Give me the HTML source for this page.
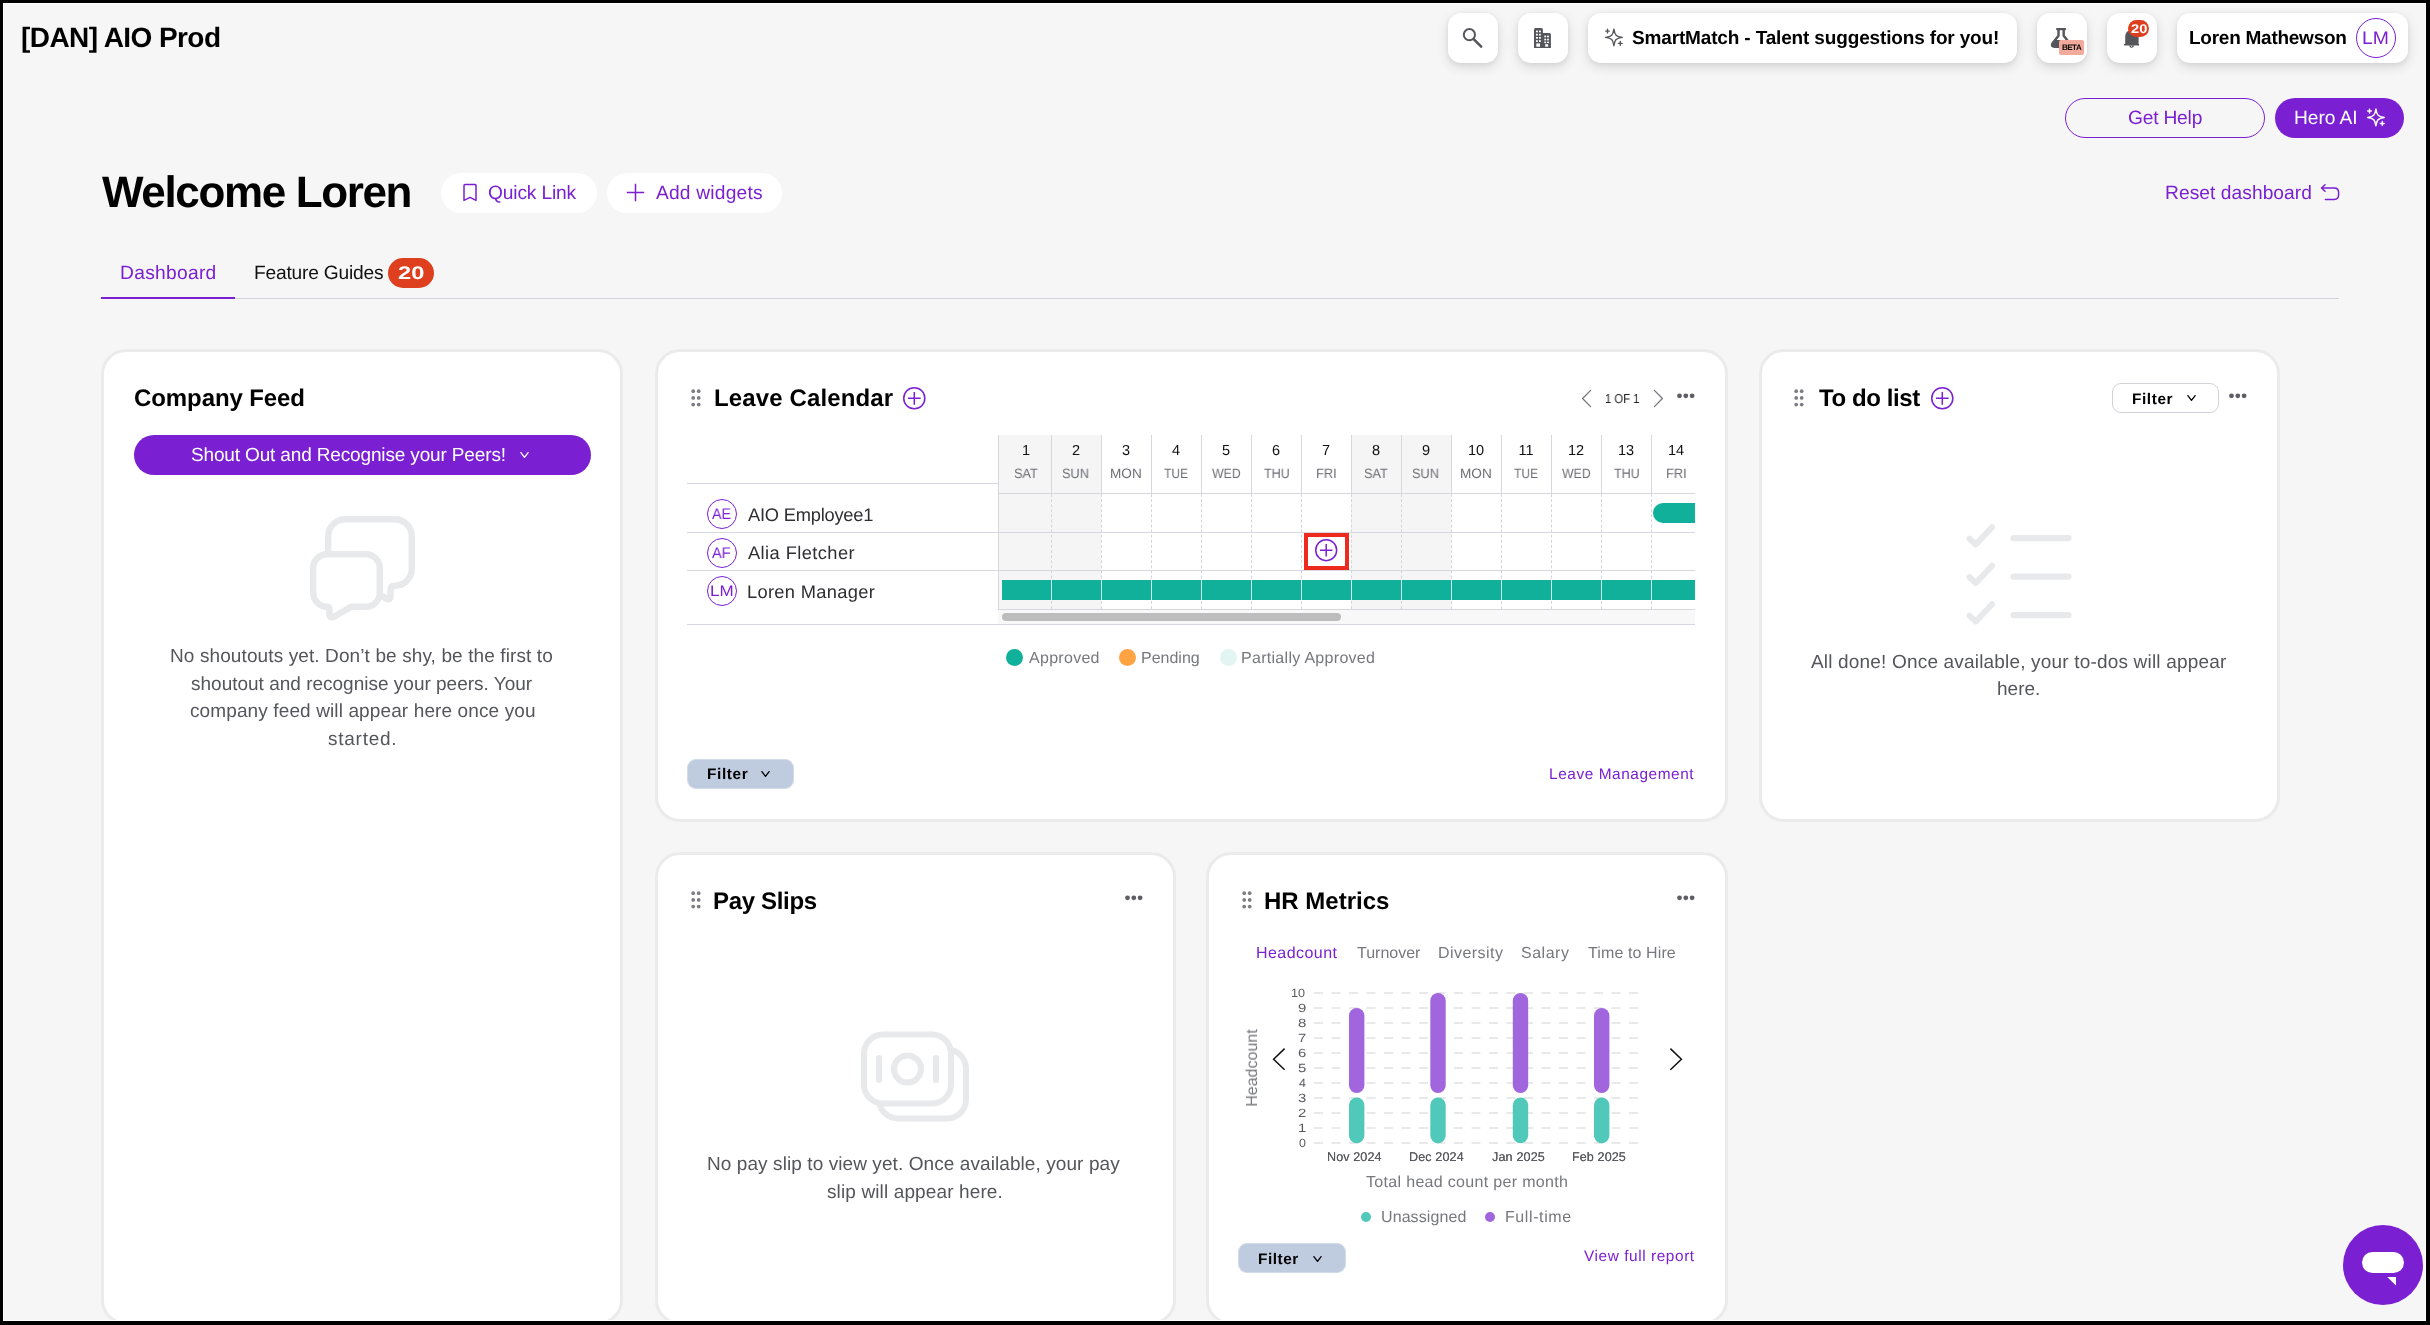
<!DOCTYPE html><html lang="en"><head><meta charset="utf-8"><title>Dashboard</title><style>

*{margin:0;padding:0;box-sizing:border-box}
html,body{width:2430px;height:1325px;overflow:hidden;background:#f6f6f6}
body{position:relative;font-family:"Liberation Sans",sans-serif;color:#000;text-rendering:geometricPrecision}
body>div,body>span,body>svg{position:absolute}
.t{white-space:pre;line-height:1;display:block;will-change:transform}
.card{background:#fff;border:3px solid #ebebeb;border-radius:25px}
.hb{background:#fff;border-radius:13px;box-shadow:0 4px 12px rgba(0,0,0,.13),0 1px 4px rgba(0,0,0,.06)}

</style></head><body>
<div class="hb" style="left:1448px;top:13px;width:50px;height:50px"></div>
<svg style="left:1458px;top:23px" width="30" height="30" viewBox="0 0 30 30" fill="none" stroke="#55565b"><circle cx="11.4" cy="11.7" r="5.6" stroke-width="2"/><path d="M15.7 16.2 L23.2 23.7" stroke-width="2.6" stroke-linecap="round"/></svg>
<div class="hb" style="left:1518px;top:13px;width:50px;height:50px"></div>
<svg style="left:1533px;top:27px" width="19" height="22" viewBox="0 0 19 22"><path fill="#55565b" d="M1 2.6 Q1 1 2.6 1 H8.3 Q9.9 1 9.9 2.6 V6 H16.3 Q17.9 6 17.9 7.6 V20.9 H1 Z"/><g fill="#fff"><rect x="3" y="3.6" width="1.9" height="1.7"/><rect x="6" y="3.6" width="1.9" height="1.7"/><rect x="3" y="6.8" width="1.9" height="1.7"/><rect x="6" y="6.8" width="1.9" height="1.7"/><rect x="3" y="10" width="1.9" height="1.7"/><rect x="6" y="10" width="1.9" height="1.7"/><rect x="3" y="13.2" width="1.9" height="1.7"/><rect x="6" y="13.2" width="1.9" height="1.7"/><rect x="3.3" y="16.4" width="3.7" height="3.3"/><rect x="11.3" y="8.6" width="1.8" height="1.7"/><rect x="14.1" y="8.6" width="1.8" height="1.7"/><rect x="11.3" y="11.7" width="1.8" height="1.7"/><rect x="14.1" y="11.7" width="1.8" height="1.7"/><rect x="11.3" y="14.6" width="1.8" height="1.5"/><rect x="14.1" y="14.6" width="1.8" height="1.5"/><rect x="12.2" y="17.2" width="2.9" height="2.5"/></g></svg>
<div class="hb" style="left:1588px;top:13px;width:429px;height:50px"></div>
<svg style="left:1604px;top:28px" width="20.0" height="19.0" viewBox="0 0 20 19" fill="none" stroke="#55565b" stroke-width="1.4" stroke-linejoin="round" stroke-linecap="round"><path d="M9.9 1.1 C10.8 7.2 12.1 8.5 18.3 9.4 C12.1 10.3 10.8 11.6 9.9 17.7 C9 11.6 7.7 10.3 1.5 9.4 C7.7 8.5 9 7.2 9.9 1.1 Z"/><path d="M3.5 1.3 V4.9 M1.7 3.1 H5.3"/><path d="M16.3 13.5 V17.3 M14.4 15.4 H18.2"/></svg>
<div class="hb" style="left:2037px;top:13px;width:50px;height:50px"></div>
<svg style="left:2050px;top:27px" width="23" height="22" viewBox="0 0 23 22"><rect x="6.2" y="1" width="9.8" height="2.2" rx="0.6" fill="#55565b"/><path d="M8.5 2.5 V8.8 L2.5 16.2 Q0.9 19.8 4.6 19.8 H17.6 Q21.3 19.8 19.7 16.2 L13.7 8.8 V2.5" fill="none" stroke="#55565b" stroke-width="2.4" stroke-linejoin="round"/><path d="M5.2 13 H17 L19.8 16.6 Q20.6 19.6 17.6 19.6 H4.6 Q1.6 19.6 2.4 16.6 Z" fill="#55565b"/></svg>
<div style="left:2059px;top:40px;width:25px;height:15px;background:#f1aa9b;border-radius:2px"></div>
<div class="hb" style="left:2107px;top:13px;width:50px;height:50px"></div>
<svg style="left:2123px;top:29px" width="18" height="20" viewBox="0 0 18 20"><path fill="#55565b" d="M2.2 14.9 V8 C2.2 3.6 5 1 8.9 1 C12.8 1 15.6 3.6 15.6 8 V14.9 H16.1 V16.5 H1.1 V14.9 Z"/><path fill="#55565b" d="M6.2 16.4 A2.4 2.4 0 0 0 11 16.4 Z"/><circle cx="8.6" cy="17.3" r="0.55" fill="#fff"/></svg>
<div style="left:2128px;top:20px;width:21px;height:17px;border-radius:8.5px;background:#de3f1f"></div>
<div class="hb" style="left:2177px;top:13px;width:231px;height:50px"></div>
<div style="left:2356px;top:18px;width:40px;height:40px;border-radius:50%;border:1.5px solid #7a1fd2"></div>
<div style="left:2065px;top:98px;width:200px;height:40px;border-radius:20px;border:1.5px solid #7a1fd2"></div>
<div style="left:2275px;top:98px;width:129px;height:40px;border-radius:20px;background:#7a1fd2"></div>
<svg style="left:2366px;top:107.5px" width="20.0" height="19.0" viewBox="0 0 20 19" fill="none" stroke="#fff" stroke-width="1.5" stroke-linejoin="round" stroke-linecap="round"><path d="M9.9 1.1 C10.8 7.2 12.1 8.5 18.3 9.4 C12.1 10.3 10.8 11.6 9.9 17.7 C9 11.6 7.7 10.3 1.5 9.4 C7.7 8.5 9 7.2 9.9 1.1 Z"/><path d="M3.5 1.3 V4.9 M1.7 3.1 H5.3"/><path d="M16.3 13.5 V17.3 M14.4 15.4 H18.2"/></svg>
<div style="left:441px;top:173px;width:156px;height:40px;border-radius:20px;background:#fff"></div>
<svg style="left:462px;top:183px" width="16" height="19" viewBox="0 0 16 19" fill="none" stroke="#7a1fd2" stroke-width="1.5" stroke-linejoin="round"><path d="M2 2.6 Q2 1.6 3 1.6 H13 Q14 1.6 14 2.6 V17.4 L8 14.4 L2 17.4 Z"/></svg>
<div style="left:607px;top:173px;width:175px;height:40px;border-radius:20px;background:#fff"></div>
<svg style="left:626px;top:183px" width="19" height="19" viewBox="0 0 19 19" fill="none" stroke="#7a1fd2" stroke-width="1.5"><path d="M9.5 0.8 V18.2 M0.8 9.5 H18.2"/></svg>
<svg style="left:2320px;top:183px" width="21" height="19" viewBox="0 0 21 19" fill="none" stroke="#7a1fd2" stroke-width="1.5" stroke-linejoin="round" stroke-linecap="round"><path d="M5 1.8 L1.6 5 L5 8.2"/><path d="M1.8 5 H14.2 Q18.6 5 18.6 9.4 V12 Q18.6 16.4 14.2 16.4 H5.4"/></svg>
<div style="left:101px;top:298px;width:2238px;height:1px;background:#d3d3dc"></div>
<div style="left:101px;top:296.5px;width:134px;height:2.5px;background:#7a1fd2"></div>
<div style="left:388px;top:258px;width:46px;height:30px;border-radius:15px;background:#de3f1f"></div>
<div class="card" style="left:101px;top:349px;width:522px;height:976px"></div>
<div style="left:134px;top:435px;width:457px;height:40px;border-radius:20px;background:#7a1fd2"></div>
<svg style="left:518.5px;top:450.5px" width="11" height="8" viewBox="0 0 11 8" fill="none" stroke="#fff" stroke-width="1.3" stroke-linecap="round" stroke-linejoin="round"><path d="M1.9 1.6 L5.5 6.3 L9.1 1.6"/></svg>
<svg style="left:305px;top:511px" width="115" height="115" viewBox="0 0 115 115" fill="none" stroke="#e8e9eb" stroke-width="6.4" stroke-linecap="round" stroke-linejoin="round"><path d="M23.2 45 V25.2 A17 17 0 0 1 40.2 8.2 H89.8 A17 17 0 0 1 106.8 25.2 V57.8 A17 17 0 0 1 89.8 74.8 Q85.6 74.8 85.6 79 V85.5 Q85.6 88.8 82.4 88.2 L78 85.6"/><path fill="#fff" d="M22.2 43.2 H60.8 A14 14 0 0 1 74.8 57.2 V81.8 A14 14 0 0 1 60.8 95.8 H46 L29.6 105.6 Q24.4 108 24.4 103 V98 Q24.4 95.8 22.2 95.8 A14 14 0 0 1 8.2 81.8 V57.2 A14 14 0 0 1 22.2 43.2 Z"/></svg>
<div class="card" style="left:655px;top:349px;width:1073px;height:473px"></div>
<svg style="left:690.5px;top:389.3px" width="10" height="18" viewBox="0 0 10 18" fill="#7c7d82"><circle cx="2.2" cy="2.2" r="1.85"/><circle cx="2.2" cy="8.9" r="1.85"/><circle cx="2.2" cy="15.6" r="1.85"/><circle cx="7.7" cy="2.2" r="1.85"/><circle cx="7.7" cy="8.9" r="1.85"/><circle cx="7.7" cy="15.6" r="1.85"/></svg>
<svg style="left:902.2px;top:385.9px" width="24.6" height="24.6" fill="none" stroke="#7a1fd2" stroke-width="1.5"><circle cx="12.3" cy="12.3" r="10.55"/><path d="M12.3 5.97 V18.63 M5.97 12.3 H18.63"/></svg>
<svg style="left:1580px;top:388px" width="14" height="21" viewBox="0 0 14 21" fill="none" stroke="#77787d" stroke-width="1.3" stroke-linecap="round" stroke-linejoin="round"><path d="M10.6 2.4 L2.6 10.5 L10.6 18.6"/></svg>
<svg style="left:1651px;top:388px" width="14" height="21" viewBox="0 0 14 21" fill="none" stroke="#77787d" stroke-width="1.3" stroke-linecap="round" stroke-linejoin="round"><path d="M3.4 2.4 L11.4 10.5 L3.4 18.6"/></svg>
<svg style="left:1676.6px;top:393.4px" width="18" height="6" viewBox="0 0 18 6" fill="#5d5e63"><circle cx="2.5" cy="2.8" r="2.4"/><circle cx="8.8" cy="2.8" r="2.4"/><circle cx="15.1" cy="2.8" r="2.4"/></svg>
<div style="left:998px;top:435px;width:697px;height:190px;overflow:hidden"><div style="position:absolute;left:0.0px;top:0;width:103.4px;height:174px;background:#f5f5f6"></div><div style="position:absolute;left:353.4px;top:0;width:100.0px;height:174px;background:#f5f5f6"></div><div style="position:absolute;left:0;top:175px;width:697px;height:14px;background:#f8f8f8"></div><div style="position:absolute;left:4px;top:178px;width:339px;height:8px;border-radius:4px;background:#bdbdbd"></div><div style="position:absolute;left:0;top:0;width:1px;height:174px;background:#d7d7de"></div><div style="position:absolute;left:53px;top:0;width:1px;height:58px;background:#d7d7de"></div><div style="position:absolute;left:53px;top:59px;width:0;height:115px;border-left:1px dashed #d4d4db"></div><div style="position:absolute;left:103px;top:0;width:1px;height:58px;background:#d7d7de"></div><div style="position:absolute;left:103px;top:59px;width:0;height:115px;border-left:1px dashed #d4d4db"></div><div style="position:absolute;left:153px;top:0;width:1px;height:58px;background:#d7d7de"></div><div style="position:absolute;left:153px;top:59px;width:0;height:115px;border-left:1px dashed #d4d4db"></div><div style="position:absolute;left:203px;top:0;width:1px;height:58px;background:#d7d7de"></div><div style="position:absolute;left:203px;top:59px;width:0;height:115px;border-left:1px dashed #d4d4db"></div><div style="position:absolute;left:253px;top:0;width:1px;height:58px;background:#d7d7de"></div><div style="position:absolute;left:253px;top:59px;width:0;height:115px;border-left:1px dashed #d4d4db"></div><div style="position:absolute;left:303px;top:0;width:1px;height:58px;background:#d7d7de"></div><div style="position:absolute;left:303px;top:59px;width:0;height:115px;border-left:1px dashed #d4d4db"></div><div style="position:absolute;left:353px;top:0;width:1px;height:58px;background:#d7d7de"></div><div style="position:absolute;left:353px;top:59px;width:0;height:115px;border-left:1px dashed #d4d4db"></div><div style="position:absolute;left:403px;top:0;width:1px;height:58px;background:#d7d7de"></div><div style="position:absolute;left:403px;top:59px;width:0;height:115px;border-left:1px dashed #d4d4db"></div><div style="position:absolute;left:453px;top:0;width:1px;height:58px;background:#d7d7de"></div><div style="position:absolute;left:453px;top:59px;width:0;height:115px;border-left:1px dashed #d4d4db"></div><div style="position:absolute;left:503px;top:0;width:1px;height:58px;background:#d7d7de"></div><div style="position:absolute;left:503px;top:59px;width:0;height:115px;border-left:1px dashed #d4d4db"></div><div style="position:absolute;left:553px;top:0;width:1px;height:58px;background:#d7d7de"></div><div style="position:absolute;left:553px;top:59px;width:0;height:115px;border-left:1px dashed #d4d4db"></div><div style="position:absolute;left:603px;top:0;width:1px;height:58px;background:#d7d7de"></div><div style="position:absolute;left:603px;top:59px;width:0;height:115px;border-left:1px dashed #d4d4db"></div><div style="position:absolute;left:653px;top:0;width:1px;height:58px;background:#d7d7de"></div><div style="position:absolute;left:653px;top:59px;width:0;height:115px;border-left:1px dashed #d4d4db"></div><div style="position:absolute;left:0;top:58px;width:697px;height:1px;background:#d7d7de"></div><div style="position:absolute;left:0;top:97px;width:697px;height:1px;background:#d7d7de"></div><div style="position:absolute;left:0;top:135px;width:697px;height:1px;background:#d7d7de"></div><div style="position:absolute;left:0;top:174px;width:697px;height:1px;background:#d7d7de"></div><div style="position:absolute;left:4px;top:145px;width:700px;height:20px;background:#10b09b"></div><div style="position:absolute;left:53px;top:145px;width:0;height:20px;border-left:1px solid rgba(255,255,255,.8)"></div><div style="position:absolute;left:103px;top:145px;width:0;height:20px;border-left:1px solid rgba(255,255,255,.8)"></div><div style="position:absolute;left:153px;top:145px;width:0;height:20px;border-left:1px solid rgba(255,255,255,.8)"></div><div style="position:absolute;left:203px;top:145px;width:0;height:20px;border-left:1px solid rgba(255,255,255,.8)"></div><div style="position:absolute;left:253px;top:145px;width:0;height:20px;border-left:1px solid rgba(255,255,255,.8)"></div><div style="position:absolute;left:303px;top:145px;width:0;height:20px;border-left:1px solid rgba(255,255,255,.8)"></div><div style="position:absolute;left:353px;top:145px;width:0;height:20px;border-left:1px solid rgba(255,255,255,.8)"></div><div style="position:absolute;left:403px;top:145px;width:0;height:20px;border-left:1px solid rgba(255,255,255,.8)"></div><div style="position:absolute;left:453px;top:145px;width:0;height:20px;border-left:1px solid rgba(255,255,255,.8)"></div><div style="position:absolute;left:503px;top:145px;width:0;height:20px;border-left:1px solid rgba(255,255,255,.8)"></div><div style="position:absolute;left:553px;top:145px;width:0;height:20px;border-left:1px solid rgba(255,255,255,.8)"></div><div style="position:absolute;left:603px;top:145px;width:0;height:20px;border-left:1px solid rgba(255,255,255,.8)"></div><div style="position:absolute;left:653px;top:145px;width:0;height:20px;border-left:1px solid rgba(255,255,255,.8)"></div><div style="position:absolute;left:655px;top:68px;width:80px;height:20px;border-radius:10px;background:#10b09b"></div></div>
<div style="left:687px;top:483px;width:311px;height:1px;background:#d7d7de"></div>
<div style="left:687px;top:532px;width:311px;height:1px;background:#d7d7de"></div>
<div style="left:687px;top:570px;width:311px;height:1px;background:#d7d7de"></div>
<div style="left:687px;top:624px;width:1008px;height:1px;background:#d7d7de"></div>
<div style="left:707px;top:499px;width:30px;height:30px;border-radius:50%;border:1.4px solid #7a1fd2"></div>
<div style="left:707px;top:538px;width:30px;height:30px;border-radius:50%;border:1.4px solid #7a1fd2"></div>
<div style="left:707px;top:576px;width:30px;height:30px;border-radius:50%;border:1.4px solid #7a1fd2"></div>
<div style="left:1304px;top:533px;width:45px;height:37px;border:4px solid #ee2a1f;background:#fff"></div>
<svg style="left:1313.8px;top:538.3px" width="24.4" height="24.4" fill="none" stroke="#7a1fd2" stroke-width="1.5"><circle cx="12.2" cy="12.2" r="10.45"/><path d="M12.2 5.93 V18.47 M5.93 12.2 H18.47"/></svg>
<div style="left:1006px;top:648.5px;width:17px;height:17px;border-radius:50%;background:#10b09b"></div>
<div style="left:1119px;top:648.5px;width:17px;height:17px;border-radius:50%;background:#ffa343"></div>
<div style="left:1220px;top:648.5px;width:17px;height:17px;border-radius:50%;background:#e3f5f3"></div>
<div style="left:687px;top:759px;width:107px;height:30px;border-radius:9px;background:#bfcbdf;border:1px solid #d3dbe9"></div>
<svg style="left:760.3px;top:769.8px" width="11" height="8" viewBox="0 0 11 8" fill="none" stroke="#000" stroke-width="1.3" stroke-linecap="round" stroke-linejoin="round"><path d="M1.9 1.6 L5.5 6.3 L9.1 1.6"/></svg>
<div class="card" style="left:1759px;top:349px;width:521px;height:473px"></div>
<svg style="left:1794px;top:389.3px" width="10" height="18" viewBox="0 0 10 18" fill="#7c7d82"><circle cx="2.2" cy="2.2" r="1.85"/><circle cx="2.2" cy="8.9" r="1.85"/><circle cx="2.2" cy="15.6" r="1.85"/><circle cx="7.7" cy="2.2" r="1.85"/><circle cx="7.7" cy="8.9" r="1.85"/><circle cx="7.7" cy="15.6" r="1.85"/></svg>
<svg style="left:1929.7px;top:385.9px" width="24.6" height="24.6" fill="none" stroke="#7a1fd2" stroke-width="1.5"><circle cx="12.3" cy="12.3" r="10.55"/><path d="M12.3 5.97 V18.63 M5.97 12.3 H18.63"/></svg>
<div style="left:2112px;top:383px;width:106.5px;height:30px;border-radius:9px;background:#fff;border:1px solid #d2d2d8"></div>
<svg style="left:2185.6px;top:394.4px" width="11" height="8" viewBox="0 0 11 8" fill="none" stroke="#000" stroke-width="1.3" stroke-linecap="round" stroke-linejoin="round"><path d="M1.9 1.6 L5.5 6.3 L9.1 1.6"/></svg>
<svg style="left:2229.3px;top:393.2px" width="18" height="6" viewBox="0 0 18 6" fill="#5d5e63"><circle cx="2.5" cy="2.8" r="2.4"/><circle cx="8.8" cy="2.8" r="2.4"/><circle cx="15.1" cy="2.8" r="2.4"/></svg>
<svg style="left:1960px;top:515px" width="120" height="115" viewBox="0 0 120 115" fill="none" stroke="#e8e9eb" stroke-linecap="round" stroke-linejoin="round"><path stroke-width="6" d="M9.5 23.6 L15.8 29.5 L32 12.3"/><path stroke-width="6.4" d="M53.6 23.1 H108.4"/><path stroke-width="6" d="M9.5 62.1 L15.8 68.0 L32 50.8"/><path stroke-width="6.4" d="M53.6 61.6 H108.4"/><path stroke-width="6" d="M9.5 100.6 L15.8 106.5 L32 89.3"/><path stroke-width="6.4" d="M53.6 100.1 H108.4"/></svg>
<div class="card" style="left:655px;top:852px;width:521px;height:473px"></div>
<svg style="left:690.6px;top:891.4px" width="10" height="18" viewBox="0 0 10 18" fill="#7c7d82"><circle cx="2.2" cy="2.2" r="1.85"/><circle cx="2.2" cy="8.9" r="1.85"/><circle cx="2.2" cy="15.6" r="1.85"/><circle cx="7.7" cy="2.2" r="1.85"/><circle cx="7.7" cy="8.9" r="1.85"/><circle cx="7.7" cy="15.6" r="1.85"/></svg>
<svg style="left:1125.3px;top:895.4px" width="18" height="6" viewBox="0 0 18 6" fill="#5d5e63"><circle cx="2.5" cy="2.8" r="2.4"/><circle cx="8.8" cy="2.8" r="2.4"/><circle cx="15.1" cy="2.8" r="2.4"/></svg>
<svg style="left:856px;top:1026px" width="120" height="100" viewBox="0 0 120 100" fill="none" stroke="#e8e9eb" stroke-width="6" stroke-linecap="round"><rect x="23" y="23.6" width="87" height="68.8" rx="19" ry="19"/><rect x="8" y="8.6" width="87" height="68.8" rx="19" ry="19" fill="#fff"/><path d="M23 32 V54 M80 32 V54"/><circle cx="51.5" cy="43" r="13.5"/></svg>
<div class="card" style="left:1206px;top:852px;width:522px;height:473px"></div>
<svg style="left:1241.6px;top:891.4px" width="10" height="18" viewBox="0 0 10 18" fill="#7c7d82"><circle cx="2.2" cy="2.2" r="1.85"/><circle cx="2.2" cy="8.9" r="1.85"/><circle cx="2.2" cy="15.6" r="1.85"/><circle cx="7.7" cy="2.2" r="1.85"/><circle cx="7.7" cy="8.9" r="1.85"/><circle cx="7.7" cy="15.6" r="1.85"/></svg>
<svg style="left:1676.8px;top:895.4px" width="18" height="6" viewBox="0 0 18 6" fill="#5d5e63"><circle cx="2.5" cy="2.8" r="2.4"/><circle cx="8.8" cy="2.8" r="2.4"/><circle cx="15.1" cy="2.8" r="2.4"/></svg>
<svg style="left:1236px;top:980px" width="470" height="200" viewBox="1236 980 470 200"><path d="M1314 1143 H1638" stroke="#e9e9ea" stroke-width="1.8" stroke-dasharray="9 8.5" fill="none"/><path d="M1314 1128 H1638" stroke="#e9e9ea" stroke-width="1.8" stroke-dasharray="9 8.5" fill="none"/><path d="M1314 1113 H1638" stroke="#e9e9ea" stroke-width="1.8" stroke-dasharray="9 8.5" fill="none"/><path d="M1314 1098 H1638" stroke="#e9e9ea" stroke-width="1.8" stroke-dasharray="9 8.5" fill="none"/><path d="M1314 1083 H1638" stroke="#e9e9ea" stroke-width="1.8" stroke-dasharray="9 8.5" fill="none"/><path d="M1314 1068 H1638" stroke="#e9e9ea" stroke-width="1.8" stroke-dasharray="9 8.5" fill="none"/><path d="M1314 1053 H1638" stroke="#e9e9ea" stroke-width="1.8" stroke-dasharray="9 8.5" fill="none"/><path d="M1314 1038 H1638" stroke="#e9e9ea" stroke-width="1.8" stroke-dasharray="9 8.5" fill="none"/><path d="M1314 1023 H1638" stroke="#e9e9ea" stroke-width="1.8" stroke-dasharray="9 8.5" fill="none"/><path d="M1314 1008 H1638" stroke="#e9e9ea" stroke-width="1.8" stroke-dasharray="9 8.5" fill="none"/><path d="M1314 993 H1638" stroke="#e9e9ea" stroke-width="1.8" stroke-dasharray="9 8.5" fill="none"/><rect x="1349.0" y="1008" width="15.4" height="85" rx="7.7" fill="#a165de"/><rect x="1349.0" y="1097.6" width="15.4" height="45.6" rx="7.7" fill="#50c8ba"/><rect x="1430.3" y="993" width="15.4" height="100" rx="7.7" fill="#a165de"/><rect x="1430.3" y="1097.6" width="15.4" height="45.6" rx="7.7" fill="#50c8ba"/><rect x="1512.8" y="993" width="15.4" height="100" rx="7.7" fill="#a165de"/><rect x="1512.8" y="1097.6" width="15.4" height="45.6" rx="7.7" fill="#50c8ba"/><rect x="1594.0" y="1008" width="15.4" height="85" rx="7.7" fill="#a165de"/><rect x="1594.0" y="1097.6" width="15.4" height="45.6" rx="7.7" fill="#50c8ba"/><path d="M1284.6 1048.6 L1273.6 1059.2 L1284.6 1069.8" fill="none" stroke="#111" stroke-width="1.5"/><path d="M1670.4 1048.6 L1681.4 1059.2 L1670.4 1069.8" fill="none" stroke="#111" stroke-width="1.5"/></svg>
<div style="left:1361px;top:1212px;width:10px;height:10px;border-radius:50%;background:#50c8ba"></div>
<div style="left:1485px;top:1212px;width:10px;height:10px;border-radius:50%;background:#a165de"></div>
<div style="left:1238px;top:1243px;width:107.5px;height:30px;border-radius:9px;background:#bfcbdf;border:1px solid #d3dbe9"></div>
<svg style="left:1311.8px;top:1254.8px" width="11" height="8" viewBox="0 0 11 8" fill="none" stroke="#000" stroke-width="1.3" stroke-linecap="round" stroke-linejoin="round"><path d="M1.9 1.6 L5.5 6.3 L9.1 1.6"/></svg>
<div style="left:2343px;top:1225px;width:80px;height:80px;border-radius:50%;background:#7a1fd2"></div>
<div style="left:2362px;top:1252px;width:42px;height:21px;border-radius:10.5px;background:#fff"></div>
<svg style="left:2386px;top:1276px" width="12" height="11" viewBox="0 0 12 11"><path d="M1.2 1 H10 V9.6 Z" fill="#fff"/></svg>
<span class="t" id="t0" style="left:21.00px;top:24.00px;font-size:28px;font-weight:700;color:#000;letter-spacing:-0.569px;">[DAN] AIO Prod</span>
<span class="t" id="t1" style="left:1632.00px;top:29.00px;font-size:19px;font-weight:700;color:#000;letter-spacing:-0.154px;">SmartMatch - Talent suggestions for you!</span>
<span class="t" id="t2" style="left:2061.70px;top:44.00px;font-size:8px;font-weight:700;color:#000;letter-spacing:-0.500px;">BETA</span>
<span class="t" id="t3" style="left:2130.90px;top:23.00px;font-size:12.6px;font-weight:700;color:#fff;transform-origin:0 50%;transform:scaleX(1.169);">20</span>
<span class="t" id="t4" style="left:2188.60px;top:29.00px;font-size:19px;font-weight:700;color:#000;letter-spacing:-0.257px;">Loren Mathewson</span>
<span class="t" id="t5" style="left:2362.43px;top:29.00px;font-size:18.2px;font-weight:400;color:#7a1fd2;transform-origin:0 50%;transform:scaleX(1.065);">LM</span>
<span class="t" id="t6" style="left:2128.00px;top:109.00px;font-size:19.2px;font-weight:400;color:#7a1fd2;letter-spacing:-0.200px;">Get Help</span>
<span class="t" id="t7" style="left:2294.00px;top:109.00px;font-size:19.2px;font-weight:400;color:#fff;letter-spacing:-0.067px;">Hero AI</span>
<span class="t" id="t8" style="left:102.40px;top:171.00px;font-size:44px;font-weight:700;color:#000;letter-spacing:-1.367px;">Welcome Loren</span>
<span class="t" id="t9" style="left:488.40px;top:184.00px;font-size:19.2px;font-weight:400;color:#7a1fd2;letter-spacing:-0.156px;">Quick Link</span>
<span class="t" id="t10" style="left:655.60px;top:184.00px;font-size:19.2px;font-weight:400;color:#7a1fd2;letter-spacing:0.200px;">Add widgets</span>
<span class="t" id="t11" style="left:2164.60px;top:184.00px;font-size:19.2px;font-weight:400;color:#7a1fd2;letter-spacing:0.057px;">Reset dashboard</span>
<span class="t" id="t12" style="left:119.60px;top:264.00px;font-size:19.2px;font-weight:400;color:#7a1fd2;letter-spacing:0.300px;">Dashboard</span>
<span class="t" id="t13" style="left:254.00px;top:264.00px;font-size:19.2px;font-weight:400;color:#111;letter-spacing:-0.200px;">Feature Guides</span>
<span class="t" id="t14" style="left:398.30px;top:264.00px;font-size:18.2px;font-weight:700;color:#fff;transform-origin:0 50%;transform:scaleX(1.300);">20</span>
<span class="t" id="t15" style="left:134.00px;top:387.00px;font-size:24px;font-weight:700;color:#000;letter-spacing:-0.091px;">Company Feed</span>
<span class="t" id="t16" style="left:191.40px;top:446.00px;font-size:19px;font-weight:400;color:#fff;letter-spacing:-0.147px;">Shout Out and Recognise your Peers!</span>
<span class="t" id="t17" style="left:170.40px;top:647.00px;font-size:19px;font-weight:400;color:#55565b;letter-spacing:0.109px;">No shoutouts yet. Don&#8217;t be shy, be the first to</span>
<span class="t" id="t18" style="left:191.40px;top:675.00px;font-size:19px;font-weight:400;color:#55565b;letter-spacing:0.000px;">shoutout and recognise your peers. Your</span>
<span class="t" id="t19" style="left:190.00px;top:702.00px;font-size:19px;font-weight:400;color:#55565b;letter-spacing:0.119px;">company feed will appear here once you</span>
<span class="t" id="t20" style="left:328.40px;top:730.00px;font-size:19px;font-weight:400;color:#55565b;letter-spacing:0.743px;">started.</span>
<span class="t" id="t21" style="left:713.60px;top:387.00px;font-size:24px;font-weight:700;color:#000;letter-spacing:0.131px;">Leave Calendar</span>
<span class="t" id="t22" style="left:1605.13px;top:392.00px;font-size:13px;font-weight:400;color:#222;transform-origin:0 50%;transform:scaleX(0.868);">1 OF 1</span>
<span class="t" id="t23" style="left:1026.00px;top:444.00px;font-size:14.5px;font-weight:400;color:#111;transform:translateX(-50%);">1</span>
<span class="t" id="t24" style="left:1013.81px;top:467.00px;font-size:13.6px;font-weight:400;color:#6e6f74;transform-origin:0 50%;transform:scaleX(0.938);">SAT</span>
<span class="t" id="t25" style="left:1076.00px;top:444.00px;font-size:14.5px;font-weight:400;color:#111;transform:translateX(-50%);">2</span>
<span class="t" id="t26" style="left:1062.41px;top:467.00px;font-size:13.6px;font-weight:400;color:#6e6f74;transform-origin:0 50%;transform:scaleX(0.937);">SUN</span>
<span class="t" id="t27" style="left:1126.00px;top:444.00px;font-size:14.5px;font-weight:400;color:#111;transform:translateX(-50%);">3</span>
<span class="t" id="t28" style="left:1110.11px;top:467.00px;font-size:13.6px;font-weight:400;color:#6e6f74;transform-origin:0 50%;transform:scaleX(0.993);">MON</span>
<span class="t" id="t29" style="left:1176.00px;top:444.00px;font-size:14.5px;font-weight:400;color:#111;transform:translateX(-50%);">4</span>
<span class="t" id="t30" style="left:1164.00px;top:467.00px;font-size:13.6px;font-weight:400;color:#6e6f74;transform-origin:0 50%;transform:scaleX(0.889);">TUE</span>
<span class="t" id="t31" style="left:1226.00px;top:444.00px;font-size:14.5px;font-weight:400;color:#111;transform:translateX(-50%);">5</span>
<span class="t" id="t32" style="left:1212.00px;top:467.00px;font-size:13.6px;font-weight:400;color:#6e6f74;transform-origin:0 50%;transform:scaleX(0.903);">WED</span>
<span class="t" id="t33" style="left:1276.00px;top:444.00px;font-size:14.5px;font-weight:400;color:#111;transform:translateX(-50%);">6</span>
<span class="t" id="t34" style="left:1263.50px;top:467.00px;font-size:13.6px;font-weight:400;color:#6e6f74;transform-origin:0 50%;transform:scaleX(0.926);">THU</span>
<span class="t" id="t35" style="left:1326.00px;top:444.00px;font-size:14.5px;font-weight:400;color:#111;transform:translateX(-50%);">7</span>
<span class="t" id="t36" style="left:1315.55px;top:467.00px;font-size:13.6px;font-weight:400;color:#6e6f74;transform-origin:0 50%;transform:scaleX(0.950);">FRI</span>
<span class="t" id="t37" style="left:1376.00px;top:444.00px;font-size:14.5px;font-weight:400;color:#111;transform:translateX(-50%);">8</span>
<span class="t" id="t38" style="left:1363.81px;top:467.00px;font-size:13.6px;font-weight:400;color:#6e6f74;transform-origin:0 50%;transform:scaleX(0.938);">SAT</span>
<span class="t" id="t39" style="left:1426.00px;top:444.00px;font-size:14.5px;font-weight:400;color:#111;transform:translateX(-50%);">9</span>
<span class="t" id="t40" style="left:1412.41px;top:467.00px;font-size:13.6px;font-weight:400;color:#6e6f74;transform-origin:0 50%;transform:scaleX(0.937);">SUN</span>
<span class="t" id="t41" style="left:1476.00px;top:444.00px;font-size:14.5px;font-weight:400;color:#111;transform:translateX(-50%);">10</span>
<span class="t" id="t42" style="left:1460.11px;top:467.00px;font-size:13.6px;font-weight:400;color:#6e6f74;transform-origin:0 50%;transform:scaleX(0.993);">MON</span>
<span class="t" id="t43" style="left:1526.00px;top:444.00px;font-size:14.5px;font-weight:400;color:#111;transform:translateX(-50%);">11</span>
<span class="t" id="t44" style="left:1514.00px;top:467.00px;font-size:13.6px;font-weight:400;color:#6e6f74;transform-origin:0 50%;transform:scaleX(0.889);">TUE</span>
<span class="t" id="t45" style="left:1576.00px;top:444.00px;font-size:14.5px;font-weight:400;color:#111;transform:translateX(-50%);">12</span>
<span class="t" id="t46" style="left:1562.00px;top:467.00px;font-size:13.6px;font-weight:400;color:#6e6f74;transform-origin:0 50%;transform:scaleX(0.903);">WED</span>
<span class="t" id="t47" style="left:1626.00px;top:444.00px;font-size:14.5px;font-weight:400;color:#111;transform:translateX(-50%);">13</span>
<span class="t" id="t48" style="left:1613.50px;top:467.00px;font-size:13.6px;font-weight:400;color:#6e6f74;transform-origin:0 50%;transform:scaleX(0.926);">THU</span>
<span class="t" id="t49" style="left:1676.00px;top:444.00px;font-size:14.5px;font-weight:400;color:#111;transform:translateX(-50%);">14</span>
<span class="t" id="t50" style="left:1665.55px;top:467.00px;font-size:13.6px;font-weight:400;color:#6e6f74;transform-origin:0 50%;transform:scaleX(0.950);">FRI</span>
<span class="t" id="t51" style="left:712.40px;top:507.00px;font-size:15.4px;font-weight:400;color:#7a1fd2;transform-origin:0 50%;transform:scaleX(0.930);">AE</span>
<span class="t" id="t52" style="left:747.60px;top:506.00px;font-size:18.3px;font-weight:400;color:#2e2e33;letter-spacing:-0.217px;">AIO Employee1</span>
<span class="t" id="t53" style="left:712.40px;top:546.00px;font-size:15.4px;font-weight:400;color:#7a1fd2;transform-origin:0 50%;transform:scaleX(0.947);">AF</span>
<span class="t" id="t54" style="left:747.60px;top:544.00px;font-size:18.3px;font-weight:400;color:#2e2e33;letter-spacing:0.417px;">Alia Fletcher</span>
<span class="t" id="t55" style="left:709.89px;top:584.00px;font-size:15.4px;font-weight:400;color:#7a1fd2;transform-origin:0 50%;transform:scaleX(1.105);">LM</span>
<span class="t" id="t56" style="left:746.60px;top:583.00px;font-size:18.3px;font-weight:400;color:#2e2e33;letter-spacing:0.317px;">Loren Manager</span>
<span class="t" id="t57" style="left:1029.00px;top:651.00px;font-size:16px;font-weight:400;color:#77787d;letter-spacing:0.286px;">Approved</span>
<span class="t" id="t58" style="left:1141.00px;top:651.00px;font-size:16px;font-weight:400;color:#77787d;letter-spacing:0.000px;">Pending</span>
<span class="t" id="t59" style="left:1241.40px;top:651.00px;font-size:16px;font-weight:400;color:#77787d;letter-spacing:0.294px;">Partially Approved</span>
<span class="t" id="t60" style="left:707.00px;top:767.00px;font-size:15.4px;font-weight:700;color:#000;letter-spacing:0.600px;">Filter</span>
<span class="t" id="t61" style="left:1549.40px;top:767.00px;font-size:15.4px;font-weight:400;color:#7a1fd2;letter-spacing:0.573px;">Leave Management</span>
<span class="t" id="t62" style="left:1818.60px;top:387.00px;font-size:24px;font-weight:700;color:#000;letter-spacing:-0.400px;">To do list</span>
<span class="t" id="t63" style="left:2132.10px;top:392.00px;font-size:15.4px;font-weight:700;color:#000;letter-spacing:0.580px;">Filter</span>
<span class="t" id="t64" style="left:1811.40px;top:653.00px;font-size:19px;font-weight:400;color:#55565b;letter-spacing:0.179px;">All done! Once available, your to-dos will appear</span>
<span class="t" id="t65" style="left:1997.00px;top:680.00px;font-size:19px;font-weight:400;color:#55565b;letter-spacing:0.000px;">here.</span>
<span class="t" id="t66" style="left:713.00px;top:890.00px;font-size:24px;font-weight:700;color:#000;letter-spacing:-0.325px;">Pay Slips</span>
<span class="t" id="t67" style="left:707.40px;top:1155.00px;font-size:19px;font-weight:400;color:#55565b;letter-spacing:0.083px;">No pay slip to view yet. Once available, your pay</span>
<span class="t" id="t68" style="left:827.00px;top:1183.00px;font-size:19px;font-weight:400;color:#55565b;letter-spacing:0.124px;">slip will appear here.</span>
<span class="t" id="t69" style="left:1264.40px;top:890.00px;font-size:24px;font-weight:700;color:#000;letter-spacing:0.000px;">HR Metrics</span>
<span class="t" id="t70" style="left:1256.40px;top:946.00px;font-size:16px;font-weight:400;color:#7a1fd2;letter-spacing:0.450px;">Headcount</span>
<span class="t" id="t71" style="left:1357.00px;top:946.00px;font-size:16px;font-weight:400;color:#77787d;letter-spacing:0.000px;">Turnover</span>
<span class="t" id="t72" style="left:1438.40px;top:946.00px;font-size:16px;font-weight:400;color:#77787d;letter-spacing:0.450px;">Diversity</span>
<span class="t" id="t73" style="left:1521.40px;top:946.00px;font-size:16px;font-weight:400;color:#77787d;letter-spacing:0.520px;">Salary</span>
<span class="t" id="t74" style="left:1588.40px;top:946.00px;font-size:16px;font-weight:400;color:#77787d;letter-spacing:0.109px;">Time to Hire</span>
<span class="t" id="t75" style="left:1298.80px;top:1137.00px;font-size:12px;font-weight:400;color:#5a5b60;transform-origin:0 50%;transform:scaleX(1.033);">0</span>
<span class="t" id="t76" style="left:1297.56px;top:1122.00px;font-size:12px;font-weight:400;color:#5a5b60;transform-origin:0 50%;transform:scaleX(1.240);">1</span>
<span class="t" id="t77" style="left:1297.56px;top:1107.00px;font-size:12px;font-weight:400;color:#5a5b60;transform-origin:0 50%;transform:scaleX(1.240);">2</span>
<span class="t" id="t78" style="left:1297.56px;top:1092.00px;font-size:12px;font-weight:400;color:#5a5b60;transform-origin:0 50%;transform:scaleX(1.240);">3</span>
<span class="t" id="t79" style="left:1298.80px;top:1077.00px;font-size:12px;font-weight:400;color:#5a5b60;transform-origin:0 50%;transform:scaleX(1.033);">4</span>
<span class="t" id="t80" style="left:1297.56px;top:1062.00px;font-size:12px;font-weight:400;color:#5a5b60;transform-origin:0 50%;transform:scaleX(1.240);">5</span>
<span class="t" id="t81" style="left:1297.56px;top:1047.00px;font-size:12px;font-weight:400;color:#5a5b60;transform-origin:0 50%;transform:scaleX(1.240);">6</span>
<span class="t" id="t82" style="left:1297.56px;top:1032.00px;font-size:12px;font-weight:400;color:#5a5b60;transform-origin:0 50%;transform:scaleX(1.240);">7</span>
<span class="t" id="t83" style="left:1297.56px;top:1017.00px;font-size:12px;font-weight:400;color:#5a5b60;transform-origin:0 50%;transform:scaleX(1.240);">8</span>
<span class="t" id="t84" style="left:1297.56px;top:1002.00px;font-size:12px;font-weight:400;color:#5a5b60;transform-origin:0 50%;transform:scaleX(1.240);">9</span>
<span class="t" id="t85" style="left:1291.35px;top:987.00px;font-size:12px;font-weight:400;color:#5a5b60;transform-origin:0 50%;transform:scaleX(1.050);">10</span>
<span class="t" id="t86" style="left:1327.00px;top:1151.00px;font-size:12.6px;font-weight:400;color:#5a5b60;letter-spacing:0.086px;text-shadow:0 0 0.4px #5a5b60;">Nov 2024</span>
<span class="t" id="t87" style="left:1408.60px;top:1151.00px;font-size:12.6px;font-weight:400;color:#5a5b60;letter-spacing:0.114px;text-shadow:0 0 0.4px #5a5b60;">Dec 2024</span>
<span class="t" id="t88" style="left:1492.00px;top:1151.00px;font-size:12.6px;font-weight:400;color:#5a5b60;letter-spacing:0.143px;text-shadow:0 0 0.4px #5a5b60;">Jan 2025</span>
<span class="t" id="t89" style="left:1572.40px;top:1151.00px;font-size:12.6px;font-weight:400;color:#5a5b60;letter-spacing:0.086px;text-shadow:0 0 0.4px #5a5b60;">Feb 2025</span>
<span class="t" id="t90" style="left:1252.50px;top:1068.00px;font-size:16px;font-weight:400;color:#77787d;transform:translate(-50%,-50%) rotate(-90deg);">Headcount</span>
<span class="t" id="t91" style="left:1366.00px;top:1175.00px;font-size:16px;font-weight:400;color:#77787d;letter-spacing:0.320px;">Total head count per month</span>
<span class="t" id="t92" style="left:1380.60px;top:1210.00px;font-size:16px;font-weight:400;color:#77787d;letter-spacing:0.089px;">Unassigned</span>
<span class="t" id="t93" style="left:1504.60px;top:1210.00px;font-size:16px;font-weight:400;color:#77787d;letter-spacing:0.600px;">Full-time</span>
<span class="t" id="t94" style="left:1258.40px;top:1252.00px;font-size:15.4px;font-weight:700;color:#000;letter-spacing:0.520px;">Filter</span>
<span class="t" id="t95" style="left:1584.00px;top:1249.00px;font-size:15.4px;font-weight:400;color:#7a1fd2;letter-spacing:0.573px;">View full report</span>
<div style="left:0;top:0;width:2430px;height:3px;background:#000"></div>
<div style="left:0;top:0;width:3px;height:1325px;background:#000"></div>
<div style="left:2426px;top:0;width:4px;height:1325px;background:#000"></div>
<div style="left:0;top:1321px;width:2430px;height:4px;background:#000"></div>
<div style="left:3px;top:3px;width:2423px;height:1318px;border:1px solid #fff"></div>
</body></html>
